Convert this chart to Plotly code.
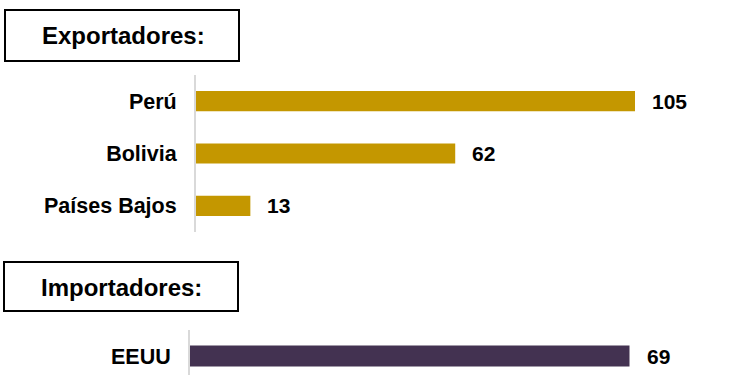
import plotly.graph_objects as go

# Data
exp_countries = ["Perú", "Bolivia", "Países Bajos"]
exp_values = [105, 62, 13]
imp_countries = ["EEUU"]
imp_values = [69]
title_exp = "Exportadores:"
title_imp = "Importadores:"

GOLD = "#C49700"
PURPLE = "#433251"
AXIS = "#d9d9d9"
FONT = "Liberation Sans, Arial, sans-serif"
W, H = 750, 375

fig = go.Figure()
fig.add_trace(go.Bar(x=exp_values, y=exp_countries, orientation="h",
                     marker=dict(color=GOLD, line=dict(width=0)), width=0.385,
                     xaxis="x", yaxis="y", hoverinfo="skip"))
fig.add_trace(go.Bar(x=imp_values, y=imp_countries, orientation="h",
                     marker=dict(color=PURPLE, line=dict(width=0)), width=0.4,
                     xaxis="x2", yaxis="y2", hoverinfo="skip"))

annotations = []
for c, v in zip(exp_countries, exp_values):
    annotations.append(dict(x=v, y=c, xref="x", yref="y", text=str(v), showarrow=False,
                            xanchor="left", xshift=15,
                            font=dict(family=FONT, size=21, color="black", weight="bold")))
for c, v in zip(imp_countries, imp_values):
    annotations.append(dict(x=v, y=c, xref="x2", yref="y2", text=str(v), showarrow=False,
                            xanchor="left", xshift=15,
                            font=dict(family=FONT, size=21, color="black", weight="bold")))

def px(x):
    return x / W

def py(y):
    return 1 - y / H

# Title boxes
shapes = [
    dict(type="rect", xref="paper", yref="paper", x0=px(5), x1=px(239), y0=py(61), y1=py(10),
         line=dict(color="black", width=2), fillcolor="white"),
    dict(type="rect", xref="paper", yref="paper", x0=px(4), x1=px(238), y0=py(311), y1=py(262),
         line=dict(color="black", width=2), fillcolor="white"),
]
annotations.append(dict(x=px(123), y=py(36), xref="paper", yref="paper", text=title_exp,
                        showarrow=False, xanchor="center", yanchor="middle",
                        font=dict(family=FONT, size=24, color="black", weight="bold")))
annotations.append(dict(x=px(121), y=py(287), xref="paper", yref="paper", text=title_imp,
                        showarrow=False, xanchor="center", yanchor="middle",
                        font=dict(family=FONT, size=24, color="black", weight="bold")))

hidden_x = dict(showline=False, showticklabels=False, showgrid=False, zeroline=False, ticks="")
tickfont = dict(family=FONT, size=21.5, color="black", weight="bold")

fig.update_layout(
    width=W, height=H,
    margin=dict(l=0, r=0, t=0, b=0),
    paper_bgcolor="white", plot_bgcolor="white",
    showlegend=False,
    shapes=shapes,
    annotations=annotations,
    xaxis=dict(domain=[px(196), 1], range=[0, 554 / (439 / 105)], anchor="y", **hidden_x),
    yaxis=dict(domain=[py(232), py(75)], range=[2.5, -0.5], anchor="x",
               categoryorder="array", categoryarray=exp_countries,
               showline=True, linecolor=AXIS, linewidth=2, showgrid=False, zeroline=False,
               ticks="", ticklabelstandoff=13, tickfont=tickfont),
    xaxis2=dict(domain=[px(190), 1], range=[0, 560 / (439.5 / 69)], anchor="y2", **hidden_x),
    yaxis2=dict(domain=[0, py(330)], range=[-0.365, 0.5], anchor="x2",
                showline=True, linecolor=AXIS, linewidth=2, showgrid=False, zeroline=False,
                ticks="", ticklabelstandoff=13, tickfont=tickfont),
)

fig.write_html("out.html")
